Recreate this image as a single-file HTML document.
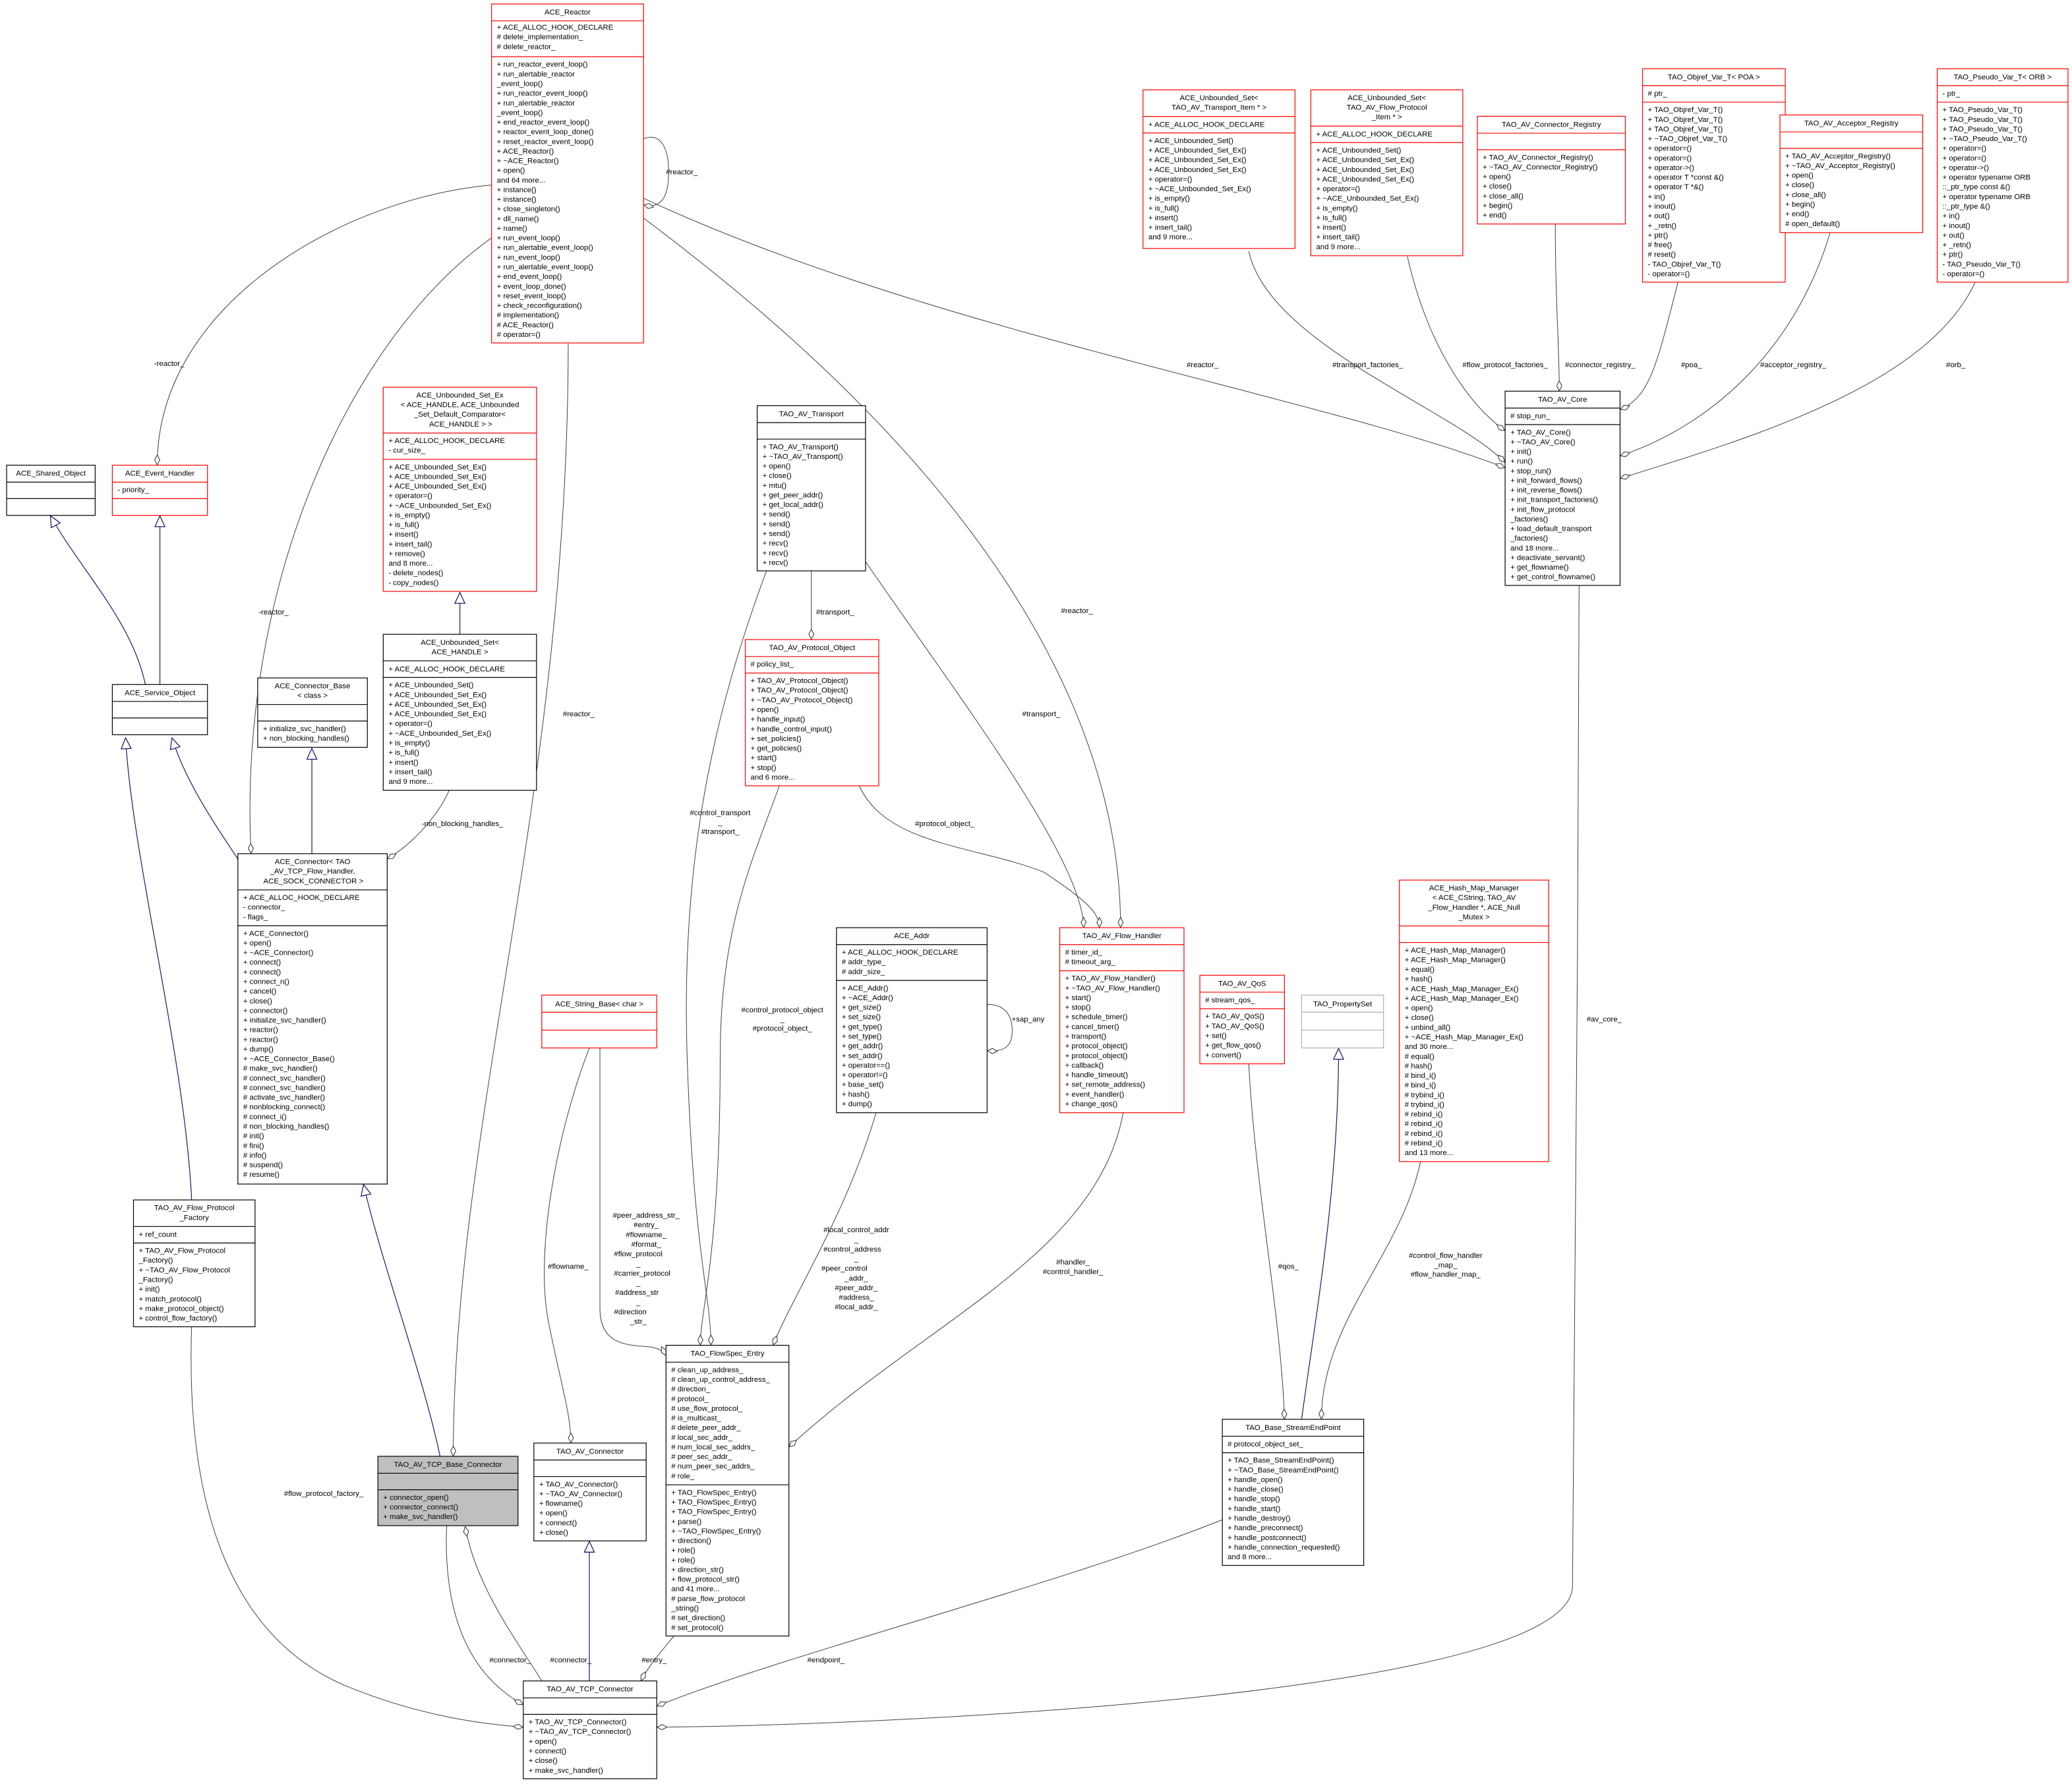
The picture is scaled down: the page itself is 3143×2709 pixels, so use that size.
<!DOCTYPE html>
<html><head><meta charset="utf-8">
<style>
html,body{margin:0;padding:0;background:#fff;}
svg{display:block;}
text{font-family:"Liberation Sans",sans-serif;font-size:5.7px;fill:#000;}
.bx rect{fill:#fff;stroke:#000;stroke-width:.6;}
.bx path{stroke:#000;stroke-width:.6;fill:none;}
.r rect,.r path{stroke:#f00;}
.g rect{fill:#bfbfbf;}
.gr rect,.gr path{stroke:#b0b0b0;}
.e{fill:none;stroke:#404040;stroke-width:.5;}
.n{fill:none;stroke:#191970;stroke-width:.6;}
.c{text-anchor:middle;}
</style></head><body>
<svg width="3143" height="2709" viewBox="0 0 1568 1351.5" xmlns="http://www.w3.org/2000/svg">
<defs>
<marker id="d" viewBox="0 0 10 6" refX="10" refY="3" markerWidth="8" markerHeight="4.8" orient="auto" markerUnits="userSpaceOnUse"><path d="M0.3,3 L5,0.6 L9.7,3 L5,5.4z" fill="#fff" stroke="#404040" stroke-width=".7"/></marker>
<marker id="t" viewBox="0 0 10 10" refX="10" refY="5" markerWidth="9" markerHeight="9" orient="auto" markerUnits="userSpaceOnUse"><path d="M0.5,0.8 L9.6,5 L0.5,9.2z" fill="#fff" stroke="#191970" stroke-width=".7"/></marker>
</defs>
<rect width="1568" height="1352" fill="#fff"/>

<!-- edges -->
<g class="e" marker-end="url(#d)">
<path d="M487,105 C500,100 506,112 506,130 C506,150 500,158 487,155"/>
<path d="M372,140 C260,150 119,230 119,352"/>
<path d="M372,180 C260,260 180,450 190,646"/>
<path d="M430,260 C430,600 343,850 343,1102"/>
<path d="M487,150 C700,250 1000,300 1139,354"/>
<path d="M487,165 C600,250 848,450 848,702"/>
<path d="M945,190 C960,260 1100,310 1139,350"/>
<path d="M1065,194 C1080,260 1110,305 1139,326"/>
<path d="M1177,169 C1177,230 1180,260 1180,296"/>
<path d="M1270,213 C1255,270 1250,300 1226,310"/>
<path d="M1385,176 C1360,260 1300,320 1226,345"/>
<path d="M1495,213 C1460,290 1330,330 1226,362"/>
<path d="M340,598 C330,620 310,640 293,650"/>
<path d="M614,432 L614,484"/>
<path d="M580,432 C540,540 515,650 520,800 C525,950 538,980 538,1018"/>
<path d="M655,425 C720,520 820,650 820,702"/>
<path d="M590,594 C570,650 545,700 545,800 C545,950 530,990 530,1018"/>
<path d="M650,594 C670,640 740,640 790,660 C820,680 832,690 832,702"/>
<path d="M663,842 C640,920 600,980 585,1018"/>
<path d="M850,842 C830,950 700,1000 597,1095"/>
<path d="M454,793 L454,990 C454,1015 470,1018 490,1019 C498,1020 502,1022 504,1026"/>
<path d="M446,793 C420,860 405,950 415,1000 C425,1050 432,1070 432,1092"/>
<path d="M747,760 C762,760 766,770 766,780 C766,792 760,796 747,795"/>
<path d="M945,805 C950,900 970,1000 972,1074"/>
<path d="M1075,879 C1060,950 1000,1000 1000,1074"/>
<path d="M1195,443 C1195,700 1190,1100 1190,1200 C1190,1280 700,1305 497,1307"/>
<path d="M145,1004 C140,1150 180,1240 260,1275 C320,1300 370,1305 396,1307"/>
<path d="M338,1154 C335,1230 360,1270 396,1290"/>
<path d="M410,1272 C390,1240 360,1200 352,1155"/>
<path d="M510,1238 C500,1250 490,1262 485,1272"/>
<path d="M925,1150 C800,1200 600,1250 497,1291"/>
</g>
<g class="n" marker-end="url(#t)">
<path d="M110,518 C100,470 60,430 38,390"/>
<path d="M121,518 L121,390"/>
<path d="M145,908 C140,800 100,650 95,558"/>
<path d="M180,650 C160,620 140,590 130,558"/>
<path d="M236,646 L236,566"/>
<path d="M348,480 L348,448"/>
<path d="M333,1102 C320,1040 290,960 275,896"/>
<path d="M446,1272 L446,1166"/>
<path d="M985,1074 C995,1000 1013,900 1013,793"/>
</g>

<!-- edge labels -->
<g class="c">
<text x="516" y="132">#reactor_</text>
<text x="128" y="277">-reactor_</text>
<text x="207" y="465">-reactor_</text>
<text x="438" y="542">#reactor_</text>
<text x="910" y="278">#reactor_</text>
<text x="815" y="464">#reactor_</text>
<text x="1035" y="278">#transport_factories_</text>
<text x="1139" y="278">#flow_protocol_factories_</text>
<text x="1211" y="278">#connector_registry_</text>
<text x="1280" y="278">#poa_</text>
<text x="1357" y="278">#acceptor_registry_</text>
<text x="1480" y="278">#orb_</text>
<text x="350" y="625">-non_blocking_handles_</text>
<text x="632" y="465">#transport_</text>
<text x="545" y="617">#control_transport</text><text x="545" y="624">_</text><text x="545" y="631">#transport_</text>
<text x="788" y="542">#transport_</text>
<text x="715" y="625">#protocol_object_</text>
<text x="592" y="766">#control_protocol_object</text><text x="592" y="773">_</text><text x="592" y="780">#protocol_object_</text>
<text x="778" y="773">+sap_any</text>
<text x="430" y="960">#flowname_</text>
<text x="812" y="957">#handler_</text><text x="812" y="964">#control_handler_</text>
<text x="975" y="960">#qos_</text>
<text x="1094" y="952">#control_flow_handler</text><text x="1094" y="959">_map_</text><text x="1094" y="966">#flow_handler_map_</text>
<text x="1214" y="773">#av_core_</text>
<text x="245" y="1132">#flow_protocol_factory_</text>
<text x="386" y="1258">#connector_</text>
<text x="432" y="1258">#connector_</text>
<text x="495" y="1258">#entry_</text>
<text x="625" y="1258">#endpoint_</text>
<text x="489" y="921.5">#peer_address_str_<tspan x="489" dy="7.3">#entry_</tspan><tspan x="489" dy="7.3">#flowname_</tspan><tspan x="489" dy="7.3">#format_</tspan><tspan x="483" dy="7.3">#flow_protocol</tspan><tspan x="483" dy="7.3">_</tspan><tspan x="486" dy="7.3">#carrier_protocol</tspan><tspan x="483" dy="7.3">_</tspan><tspan x="482" dy="7.3">#address_str</tspan><tspan x="483" dy="7.3">_</tspan><tspan x="477" dy="7.3">#direction</tspan><tspan x="483" dy="7.3">_str_</tspan></text>
<text x="648" y="932.5">#local_control_addr<tspan x="648" dy="7.3">_</tspan><tspan x="645" dy="7.3">#control_address</tspan><tspan x="648" dy="7.3">_</tspan><tspan x="639" dy="7.3">#peer_control</tspan><tspan x="648" dy="7.3">_addr_</tspan><tspan x="648" dy="7.3">#peer_addr_</tspan><tspan x="648" dy="7.3">#address_</tspan><tspan x="648" dy="7.3">#local_addr_</tspan></text>
</g>

<!-- boxes -->
<g class="bx r"><rect x="372" y="3" width="115" height="256.5"/><path d="M372,15.8H487M372,42.9H487"/>
<text class="c" x="429.5" y="11">ACE_Reactor</text>
<text x="376" y="22.5">+ ACE_ALLOC_HOOK_DECLARE<tspan x="376" dy="7.3"># delete_implementation_</tspan><tspan x="376" dy="7.3"># delete_reactor_</tspan></text>
<text x="376" y="50.5">+ run_reactor_event_loop()<tspan x="376" dy="7.3">+ run_alertable_reactor</tspan><tspan x="376" dy="7.3">_event_loop()</tspan><tspan x="376" dy="7.3">+ run_reactor_event_loop()</tspan><tspan x="376" dy="7.3">+ run_alertable_reactor</tspan><tspan x="376" dy="7.3">_event_loop()</tspan><tspan x="376" dy="7.3">+ end_reactor_event_loop()</tspan><tspan x="376" dy="7.3">+ reactor_event_loop_done()</tspan><tspan x="376" dy="7.3">+ reset_reactor_event_loop()</tspan><tspan x="376" dy="7.3">+ ACE_Reactor()</tspan><tspan x="376" dy="7.3">+ ~ACE_Reactor()</tspan><tspan x="376" dy="7.3">+ open()</tspan><tspan x="376" dy="7.3">and 64 more...</tspan><tspan x="376" dy="7.3">+ instance()</tspan><tspan x="376" dy="7.3">+ instance()</tspan><tspan x="376" dy="7.3">+ close_singleton()</tspan><tspan x="376" dy="7.3">+ dll_name()</tspan><tspan x="376" dy="7.3">+ name()</tspan><tspan x="376" dy="7.3">+ run_event_loop()</tspan><tspan x="376" dy="7.3">+ run_alertable_event_loop()</tspan><tspan x="376" dy="7.3">+ run_event_loop()</tspan><tspan x="376" dy="7.3">+ run_alertable_event_loop()</tspan><tspan x="376" dy="7.3">+ end_event_loop()</tspan><tspan x="376" dy="7.3">+ event_loop_done()</tspan><tspan x="376" dy="7.3">+ reset_event_loop()</tspan><tspan x="376" dy="7.3">+ check_reconfiguration()</tspan><tspan x="376" dy="7.3"># implementation()</tspan><tspan x="376" dy="7.3"># ACE_Reactor()</tspan><tspan x="376" dy="7.3"># operator=()</tspan></text></g>

<g class="bx r"><rect x="865" y="68" width="115" height="120"/><path d="M865,88.1H980M865,100.6H980"/>
<text class="c" x="922.5" y="75.8">ACE_Unbounded_Set&lt;<tspan x="922.5" dy="7.3">TAO_AV_Transport_Item * &gt;</tspan></text>
<text x="869" y="96">+ ACE_ALLOC_HOOK_DECLARE</text>
<text x="869" y="108.2">+ ACE_Unbounded_Set()<tspan x="869" dy="7.3">+ ACE_Unbounded_Set_Ex()</tspan><tspan x="869" dy="7.3">+ ACE_Unbounded_Set_Ex()</tspan><tspan x="869" dy="7.3">+ ACE_Unbounded_Set_Ex()</tspan><tspan x="869" dy="7.3">+ operator=()</tspan><tspan x="869" dy="7.3">+ ~ACE_Unbounded_Set_Ex()</tspan><tspan x="869" dy="7.3">+ is_empty()</tspan><tspan x="869" dy="7.3">+ is_full()</tspan><tspan x="869" dy="7.3">+ insert()</tspan><tspan x="869" dy="7.3">+ insert_tail()</tspan><tspan x="869" dy="7.3">and 9 more...</tspan></text></g>

<g class="bx r"><rect x="992" y="68" width="115" height="125.5"/><path d="M992,95.4H1107M992,107.9H1107"/>
<text class="c" x="1049.5" y="75.8">ACE_Unbounded_Set&lt;<tspan x="1049.5" dy="7.3">TAO_AV_Flow_Protocol</tspan><tspan x="1049.5" dy="7.3">_Item * &gt;</tspan></text>
<text x="996" y="103.3">+ ACE_ALLOC_HOOK_DECLARE</text>
<text x="996" y="115.5">+ ACE_Unbounded_Set()<tspan x="996" dy="7.3">+ ACE_Unbounded_Set_Ex()</tspan><tspan x="996" dy="7.3">+ ACE_Unbounded_Set_Ex()</tspan><tspan x="996" dy="7.3">+ ACE_Unbounded_Set_Ex()</tspan><tspan x="996" dy="7.3">+ operator=()</tspan><tspan x="996" dy="7.3">+ ~ACE_Unbounded_Set_Ex()</tspan><tspan x="996" dy="7.3">+ is_empty()</tspan><tspan x="996" dy="7.3">+ is_full()</tspan><tspan x="996" dy="7.3">+ insert()</tspan><tspan x="996" dy="7.3">+ insert_tail()</tspan><tspan x="996" dy="7.3">and 9 more...</tspan></text></g>

<g class="bx r"><rect x="1118" y="88" width="112" height="81.5"/><path d="M1118,100.8H1230M1118,113.3H1230"/>
<text class="c" x="1174" y="96">TAO_AV_Connector_Registry</text>
<text x="1122" y="120.9">+ TAO_AV_Connector_Registry()<tspan x="1122" dy="7.3">+ ~TAO_AV_Connector_Registry()</tspan><tspan x="1122" dy="7.3">+ open()</tspan><tspan x="1122" dy="7.3">+ close()</tspan><tspan x="1122" dy="7.3">+ close_all()</tspan><tspan x="1122" dy="7.3">+ begin()</tspan><tspan x="1122" dy="7.3">+ end()</tspan></text></g>

<g class="bx r"><rect x="1243" y="52" width="108" height="161.5"/><path d="M1243,64.8H1351M1243,77.3H1351"/>
<text class="c" x="1297" y="60">TAO_Objref_Var_T&lt; POA &gt;</text>
<text x="1247" y="72.5"># ptr_</text>
<text x="1247" y="84.9">+ TAO_Objref_Var_T()<tspan x="1247" dy="7.3">+ TAO_Objref_Var_T()</tspan><tspan x="1247" dy="7.3">+ TAO_Objref_Var_T()</tspan><tspan x="1247" dy="7.3">+ ~TAO_Objref_Var_T()</tspan><tspan x="1247" dy="7.3">+ operator=()</tspan><tspan x="1247" dy="7.3">+ operator=()</tspan><tspan x="1247" dy="7.3">+ operator-&gt;()</tspan><tspan x="1247" dy="7.3">+ operator T *const &amp;()</tspan><tspan x="1247" dy="7.3">+ operator T *&amp;()</tspan><tspan x="1247" dy="7.3">+ in()</tspan><tspan x="1247" dy="7.3">+ inout()</tspan><tspan x="1247" dy="7.3">+ out()</tspan><tspan x="1247" dy="7.3">+ _retn()</tspan><tspan x="1247" dy="7.3">+ ptr()</tspan><tspan x="1247" dy="7.3"># free()</tspan><tspan x="1247" dy="7.3"># reset()</tspan><tspan x="1247" dy="7.3">- TAO_Objref_Var_T()</tspan><tspan x="1247" dy="7.3">- operator=()</tspan></text></g>

<g class="bx r"><rect x="1347" y="87" width="108" height="89"/><path d="M1347,99.8H1455M1347,112.3H1455"/>
<text class="c" x="1401" y="95">TAO_AV_Acceptor_Registry</text>
<text x="1351" y="119.9">+ TAO_AV_Acceptor_Registry()<tspan x="1351" dy="7.3">+ ~TAO_AV_Acceptor_Registry()</tspan><tspan x="1351" dy="7.3">+ open()</tspan><tspan x="1351" dy="7.3">+ close()</tspan><tspan x="1351" dy="7.3">+ close_all()</tspan><tspan x="1351" dy="7.3">+ begin()</tspan><tspan x="1351" dy="7.3">+ end()</tspan><tspan x="1351" dy="7.3"># open_default()</tspan></text></g>

<g class="bx r"><rect x="1466" y="52" width="99" height="161.5"/><path d="M1466,64.8H1565M1466,77.3H1565"/>
<text class="c" x="1515.5" y="60">TAO_Pseudo_Var_T&lt; ORB &gt;</text>
<text x="1470" y="72.5">- ptr_</text>
<text x="1470" y="84.9">+ TAO_Pseudo_Var_T()<tspan x="1470" dy="7.3">+ TAO_Pseudo_Var_T()</tspan><tspan x="1470" dy="7.3">+ TAO_Pseudo_Var_T()</tspan><tspan x="1470" dy="7.3">+ ~TAO_Pseudo_Var_T()</tspan><tspan x="1470" dy="7.3">+ operator=()</tspan><tspan x="1470" dy="7.3">+ operator=()</tspan><tspan x="1470" dy="7.3">+ operator-&gt;()</tspan><tspan x="1470" dy="7.3">+ operator typename ORB</tspan><tspan x="1470" dy="7.3">::_ptr_type const &amp;()</tspan><tspan x="1470" dy="7.3">+ operator typename ORB</tspan><tspan x="1470" dy="7.3">::_ptr_type &amp;()</tspan><tspan x="1470" dy="7.3">+ in()</tspan><tspan x="1470" dy="7.3">+ inout()</tspan><tspan x="1470" dy="7.3">+ out()</tspan><tspan x="1470" dy="7.3">+ _retn()</tspan><tspan x="1470" dy="7.3">+ ptr()</tspan><tspan x="1470" dy="7.3">- TAO_Pseudo_Var_T()</tspan><tspan x="1470" dy="7.3">- operator=()</tspan></text></g>

<g class="bx"><rect x="1139" y="296" width="87" height="147"/><path d="M1139,308.8H1226M1139,321.3H1226"/>
<text class="c" x="1182.5" y="304">TAO_AV_Core</text>
<text x="1143" y="316.5"># stop_run_</text>
<text x="1143" y="328.9">+ TAO_AV_Core()<tspan x="1143" dy="7.3">+ ~TAO_AV_Core()</tspan><tspan x="1143" dy="7.3">+ init()</tspan><tspan x="1143" dy="7.3">+ run()</tspan><tspan x="1143" dy="7.3">+ stop_run()</tspan><tspan x="1143" dy="7.3">+ init_forward_flows()</tspan><tspan x="1143" dy="7.3">+ init_reverse_flows()</tspan><tspan x="1143" dy="7.3">+ init_transport_factories()</tspan><tspan x="1143" dy="7.3">+ init_flow_protocol</tspan><tspan x="1143" dy="7.3">_factories()</tspan><tspan x="1143" dy="7.3">+ load_default_transport</tspan><tspan x="1143" dy="7.3">_factories()</tspan><tspan x="1143" dy="7.3">and 18 more...</tspan><tspan x="1143" dy="7.3">+ deactivate_servant()</tspan><tspan x="1143" dy="7.3">+ get_flowname()</tspan><tspan x="1143" dy="7.3">+ get_control_flowname()</tspan></text></g>

<g class="bx"><rect x="5" y="352" width="67" height="38"/><path d="M5,364.8H72M5,377.3H72"/>
<text class="c" x="38.5" y="360">ACE_Shared_Object</text></g>

<g class="bx r"><rect x="85" y="352" width="72" height="38"/><path d="M85,364.8H157M85,377.3H157"/>
<text class="c" x="121" y="360">ACE_Event_Handler</text>
<text x="89" y="372.5">- priority_</text></g>

<g class="bx r"><rect x="290" y="293" width="116" height="154.5"/><path d="M290,327.7H406M290,347.5H406"/>
<text class="c" x="348" y="300.8">ACE_Unbounded_Set_Ex<tspan x="348" dy="7.3">&lt; ACE_HANDLE, ACE_Unbounded</tspan><tspan x="348" dy="7.3">_Set_Default_Comparator&lt;</tspan><tspan x="348" dy="7.3"> ACE_HANDLE &gt; &gt;</tspan></text>
<text x="294" y="335.3">+ ACE_ALLOC_HOOK_DECLARE<tspan x="294" dy="7.3">- cur_size_</tspan></text>
<text x="294" y="355.1">+ ACE_Unbounded_Set_Ex()<tspan x="294" dy="7.3">+ ACE_Unbounded_Set_Ex()</tspan><tspan x="294" dy="7.3">+ ACE_Unbounded_Set_Ex()</tspan><tspan x="294" dy="7.3">+ operator=()</tspan><tspan x="294" dy="7.3">+ ~ACE_Unbounded_Set_Ex()</tspan><tspan x="294" dy="7.3">+ is_empty()</tspan><tspan x="294" dy="7.3">+ is_full()</tspan><tspan x="294" dy="7.3">+ insert()</tspan><tspan x="294" dy="7.3">+ insert_tail()</tspan><tspan x="294" dy="7.3">+ remove()</tspan><tspan x="294" dy="7.3">and 8 more...</tspan><tspan x="294" dy="7.3">- delete_nodes()</tspan><tspan x="294" dy="7.3">- copy_nodes()</tspan></text></g>

<g class="bx"><rect x="573" y="307" width="82" height="125"/><path d="M573,319.8H655M573,332.3H655"/>
<text class="c" x="614" y="315">TAO_AV_Transport</text>
<text x="577" y="339.9">+ TAO_AV_Transport()<tspan x="577" dy="7.3">+ ~TAO_AV_Transport()</tspan><tspan x="577" dy="7.3">+ open()</tspan><tspan x="577" dy="7.3">+ close()</tspan><tspan x="577" dy="7.3">+ mtu()</tspan><tspan x="577" dy="7.3">+ get_peer_addr()</tspan><tspan x="577" dy="7.3">+ get_local_addr()</tspan><tspan x="577" dy="7.3">+ send()</tspan><tspan x="577" dy="7.3">+ send()</tspan><tspan x="577" dy="7.3">+ send()</tspan><tspan x="577" dy="7.3">+ recv()</tspan><tspan x="577" dy="7.3">+ recv()</tspan><tspan x="577" dy="7.3">+ recv()</tspan></text></g>

<g class="bx"><rect x="85" y="518" width="72" height="38"/><path d="M85,530.8H157M85,543.3H157"/>
<text class="c" x="121" y="526">ACE_Service_Object</text></g>

<g class="bx"><rect x="195" y="513" width="83" height="52.5"/><path d="M195,533.1H278M195,545.6H278"/>
<text class="c" x="236.5" y="520.8">ACE_Connector_Base<tspan x="236.5" dy="7.3">&lt; class &gt;</tspan></text>
<text x="199" y="553.2">+ initialize_svc_handler()<tspan x="199" dy="7.3">+ non_blocking_handles()</tspan></text></g>

<g class="bx"><rect x="290" y="480" width="116" height="118"/><path d="M290,500.1H406M290,512.6H406"/>
<text class="c" x="348" y="487.8">ACE_Unbounded_Set&lt;<tspan x="348" dy="7.3">ACE_HANDLE &gt;</tspan></text>
<text x="294" y="508">+ ACE_ALLOC_HOOK_DECLARE</text>
<text x="294" y="520.2">+ ACE_Unbounded_Set()<tspan x="294" dy="7.3">+ ACE_Unbounded_Set_Ex()</tspan><tspan x="294" dy="7.3">+ ACE_Unbounded_Set_Ex()</tspan><tspan x="294" dy="7.3">+ ACE_Unbounded_Set_Ex()</tspan><tspan x="294" dy="7.3">+ operator=()</tspan><tspan x="294" dy="7.3">+ ~ACE_Unbounded_Set_Ex()</tspan><tspan x="294" dy="7.3">+ is_empty()</tspan><tspan x="294" dy="7.3">+ is_full()</tspan><tspan x="294" dy="7.3">+ insert()</tspan><tspan x="294" dy="7.3">+ insert_tail()</tspan><tspan x="294" dy="7.3">and 9 more...</tspan></text></g>

<g class="bx r"><rect x="564" y="484" width="101" height="110.6"/><path d="M564,496.8H665M564,509.3H665"/>
<text class="c" x="614.5" y="492">TAO_AV_Protocol_Object</text>
<text x="568" y="504.5"># policy_list_</text>
<text x="568" y="516.9">+ TAO_AV_Protocol_Object()<tspan x="568" dy="7.3">+ TAO_AV_Protocol_Object()</tspan><tspan x="568" dy="7.3">+ ~TAO_AV_Protocol_Object()</tspan><tspan x="568" dy="7.3">+ open()</tspan><tspan x="568" dy="7.3">+ handle_input()</tspan><tspan x="568" dy="7.3">+ handle_control_input()</tspan><tspan x="568" dy="7.3">+ set_policies()</tspan><tspan x="568" dy="7.3">+ get_policies()</tspan><tspan x="568" dy="7.3">+ start()</tspan><tspan x="568" dy="7.3">+ stop()</tspan><tspan x="568" dy="7.3">and 6 more...</tspan></text></g>

<g class="bx"><rect x="180" y="646" width="113" height="250"/><path d="M180,673.4H293M180,700.5H293"/>
<text class="c" x="236.5" y="653.8">ACE_Connector&lt; TAO<tspan x="236.5" dy="7.3">_AV_TCP_Flow_Handler,</tspan><tspan x="236.5" dy="7.3"> ACE_SOCK_CONNECTOR &gt;</tspan></text>
<text x="184" y="681">+ ACE_ALLOC_HOOK_DECLARE<tspan x="184" dy="7.3">- connector_</tspan><tspan x="184" dy="7.3">- flags_</tspan></text>
<text x="184" y="708.1">+ ACE_Connector()<tspan x="184" dy="7.3">+ open()</tspan><tspan x="184" dy="7.3">+ ~ACE_Connector()</tspan><tspan x="184" dy="7.3">+ connect()</tspan><tspan x="184" dy="7.3">+ connect()</tspan><tspan x="184" dy="7.3">+ connect_n()</tspan><tspan x="184" dy="7.3">+ cancel()</tspan><tspan x="184" dy="7.3">+ close()</tspan><tspan x="184" dy="7.3">+ connector()</tspan><tspan x="184" dy="7.3">+ initialize_svc_handler()</tspan><tspan x="184" dy="7.3">+ reactor()</tspan><tspan x="184" dy="7.3">+ reactor()</tspan><tspan x="184" dy="7.3">+ dump()</tspan><tspan x="184" dy="7.3">+ ~ACE_Connector_Base()</tspan><tspan x="184" dy="7.3"># make_svc_handler()</tspan><tspan x="184" dy="7.3"># connect_svc_handler()</tspan><tspan x="184" dy="7.3"># connect_svc_handler()</tspan><tspan x="184" dy="7.3"># activate_svc_handler()</tspan><tspan x="184" dy="7.3"># nonblocking_connect()</tspan><tspan x="184" dy="7.3"># connect_i()</tspan><tspan x="184" dy="7.3"># non_blocking_handles()</tspan><tspan x="184" dy="7.3"># init()</tspan><tspan x="184" dy="7.3"># fini()</tspan><tspan x="184" dy="7.3"># info()</tspan><tspan x="184" dy="7.3"># suspend()</tspan><tspan x="184" dy="7.3"># resume()</tspan></text></g>

<g class="bx"><rect x="633" y="702" width="114" height="140"/><path d="M633,714.8H747M633,741.9H747"/>
<text class="c" x="690" y="710">ACE_Addr</text>
<text x="637" y="722.4">+ ACE_ALLOC_HOOK_DECLARE<tspan x="637" dy="7.3"># addr_type_</tspan><tspan x="637" dy="7.3"># addr_size_</tspan></text>
<text x="637" y="749.5">+ ACE_Addr()<tspan x="637" dy="7.3">+ ~ACE_Addr()</tspan><tspan x="637" dy="7.3">+ get_size()</tspan><tspan x="637" dy="7.3">+ set_size()</tspan><tspan x="637" dy="7.3">+ get_type()</tspan><tspan x="637" dy="7.3">+ set_type()</tspan><tspan x="637" dy="7.3">+ get_addr()</tspan><tspan x="637" dy="7.3">+ set_addr()</tspan><tspan x="637" dy="7.3">+ operator==()</tspan><tspan x="637" dy="7.3">+ operator!=()</tspan><tspan x="637" dy="7.3">+ base_set()</tspan><tspan x="637" dy="7.3">+ hash()</tspan><tspan x="637" dy="7.3">+ dump()</tspan></text></g>

<g class="bx r"><rect x="802" y="702" width="94" height="140"/><path d="M802,714.8H896M802,734.6H896"/>
<text class="c" x="849" y="710">TAO_AV_Flow_Handler</text>
<text x="806" y="722.4"># timer_id_<tspan x="806" dy="7.3"># timeout_arg_</tspan></text>
<text x="806" y="742.2">+ TAO_AV_Flow_Handler()<tspan x="806" dy="7.3">+ ~TAO_AV_Flow_Handler()</tspan><tspan x="806" dy="7.3">+ start()</tspan><tspan x="806" dy="7.3">+ stop()</tspan><tspan x="806" dy="7.3">+ schedule_timer()</tspan><tspan x="806" dy="7.3">+ cancel_timer()</tspan><tspan x="806" dy="7.3">+ transport()</tspan><tspan x="806" dy="7.3">+ protocol_object()</tspan><tspan x="806" dy="7.3">+ protocol_object()</tspan><tspan x="806" dy="7.3">+ callback()</tspan><tspan x="806" dy="7.3">+ handle_timeout()</tspan><tspan x="806" dy="7.3">+ set_remote_address()</tspan><tspan x="806" dy="7.3">+ event_handler()</tspan><tspan x="806" dy="7.3">+ change_qos()</tspan></text></g>

<g class="bx r"><rect x="1059" y="666" width="113" height="213"/><path d="M1059,700.7H1172M1059,713.2H1172"/>
<text class="c" x="1115.5" y="673.8">ACE_Hash_Map_Manager<tspan x="1115.5" dy="7.3">&lt; ACE_CString, TAO_AV</tspan><tspan x="1115.5" dy="7.3">_Flow_Handler *, ACE_Null</tspan><tspan x="1115.5" dy="7.3">_Mutex &gt;</tspan></text>
<text x="1063" y="720.8">+ ACE_Hash_Map_Manager()<tspan x="1063" dy="7.3">+ ACE_Hash_Map_Manager()</tspan><tspan x="1063" dy="7.3">+ equal()</tspan><tspan x="1063" dy="7.3">+ hash()</tspan><tspan x="1063" dy="7.3">+ ACE_Hash_Map_Manager_Ex()</tspan><tspan x="1063" dy="7.3">+ ACE_Hash_Map_Manager_Ex()</tspan><tspan x="1063" dy="7.3">+ open()</tspan><tspan x="1063" dy="7.3">+ close()</tspan><tspan x="1063" dy="7.3">+ unbind_all()</tspan><tspan x="1063" dy="7.3">+ ~ACE_Hash_Map_Manager_Ex()</tspan><tspan x="1063" dy="7.3">and 30 more...</tspan><tspan x="1063" dy="7.3"># equal()</tspan><tspan x="1063" dy="7.3"># hash()</tspan><tspan x="1063" dy="7.3"># bind_i()</tspan><tspan x="1063" dy="7.3"># bind_i()</tspan><tspan x="1063" dy="7.3"># trybind_i()</tspan><tspan x="1063" dy="7.3"># trybind_i()</tspan><tspan x="1063" dy="7.3"># rebind_i()</tspan><tspan x="1063" dy="7.3"># rebind_i()</tspan><tspan x="1063" dy="7.3"># rebind_i()</tspan><tspan x="1063" dy="7.3"># rebind_i()</tspan><tspan x="1063" dy="7.3">and 13 more...</tspan></text></g>

<g class="bx r"><rect x="410" y="753" width="87" height="40"/><path d="M410,766H497M410,779.5H497"/>
<text class="c" x="453.5" y="761.5">ACE_String_Base&lt; char &gt;</text></g>

<g class="bx r"><rect x="908" y="738" width="64" height="67"/><path d="M908,750.8H972M908,763.3H972"/>
<text class="c" x="940" y="746">TAO_AV_QoS</text>
<text x="912" y="758.5"># stream_qos_</text>
<text x="912" y="770.9">+ TAO_AV_QoS()<tspan x="912" dy="7.3">+ TAO_AV_QoS()</tspan><tspan x="912" dy="7.3">+ set()</tspan><tspan x="912" dy="7.3">+ get_flow_qos()</tspan><tspan x="912" dy="7.3">+ convert()</tspan></text></g>

<g class="bx gr"><rect x="985" y="753" width="62" height="40"/><path d="M985,766H1047M985,779.5H1047"/>
<text class="c" x="1016" y="761.5">TAO_PropertySet</text></g>

<g class="bx"><rect x="101" y="908" width="92" height="96"/><path d="M101,928.1H193M101,940.6H193"/>
<text class="c" x="147" y="915.8">TAO_AV_Flow_Protocol<tspan x="147" dy="7.3">_Factory</tspan></text>
<text x="105" y="935.8">+ ref_count</text>
<text x="105" y="948.2">+ TAO_AV_Flow_Protocol<tspan x="105" dy="7.3">_Factory()</tspan><tspan x="105" dy="7.3">+ ~TAO_AV_Flow_Protocol</tspan><tspan x="105" dy="7.3">_Factory()</tspan><tspan x="105" dy="7.3">+ init()</tspan><tspan x="105" dy="7.3">+ match_protocol()</tspan><tspan x="105" dy="7.3">+ make_protocol_object()</tspan><tspan x="105" dy="7.3">+ control_flow_factory()</tspan></text></g>

<g class="bx"><rect x="504" y="1018" width="93" height="220"/><path d="M504,1030.8H597M504,1123.6H597"/>
<text class="c" x="550.5" y="1026">TAO_FlowSpec_Entry</text>
<text x="508" y="1038.4"># clean_up_address_<tspan x="508" dy="7.3"># clean_up_control_address_</tspan><tspan x="508" dy="7.3"># direction_</tspan><tspan x="508" dy="7.3"># protocol_</tspan><tspan x="508" dy="7.3"># use_flow_protocol_</tspan><tspan x="508" dy="7.3"># is_multicast_</tspan><tspan x="508" dy="7.3"># delete_peer_addr_</tspan><tspan x="508" dy="7.3"># local_sec_addr_</tspan><tspan x="508" dy="7.3"># num_local_sec_addrs_</tspan><tspan x="508" dy="7.3"># peer_sec_addr_</tspan><tspan x="508" dy="7.3"># num_peer_sec_addrs_</tspan><tspan x="508" dy="7.3"># role_</tspan></text>
<text x="508" y="1131.2">+ TAO_FlowSpec_Entry()<tspan x="508" dy="7.3">+ TAO_FlowSpec_Entry()</tspan><tspan x="508" dy="7.3">+ TAO_FlowSpec_Entry()</tspan><tspan x="508" dy="7.3">+ parse()</tspan><tspan x="508" dy="7.3">+ ~TAO_FlowSpec_Entry()</tspan><tspan x="508" dy="7.3">+ direction()</tspan><tspan x="508" dy="7.3">+ role()</tspan><tspan x="508" dy="7.3">+ role()</tspan><tspan x="508" dy="7.3">+ direction_str()</tspan><tspan x="508" dy="7.3">+ flow_protocol_str()</tspan><tspan x="508" dy="7.3">and 41 more...</tspan><tspan x="508" dy="7.3"># parse_flow_protocol</tspan><tspan x="508" dy="7.3">_string()</tspan><tspan x="508" dy="7.3"># set_direction()</tspan><tspan x="508" dy="7.3"># set_protocol()</tspan></text></g>

<g class="bx"><rect x="925" y="1074" width="107" height="110.6"/><path d="M925,1086.8H1032M925,1099.3H1032"/>
<text class="c" x="978.5" y="1082">TAO_Base_StreamEndPoint</text>
<text x="929" y="1094.5"># protocol_object_set_</text>
<text x="929" y="1106.9">+ TAO_Base_StreamEndPoint()<tspan x="929" dy="7.3">+ ~TAO_Base_StreamEndPoint()</tspan><tspan x="929" dy="7.3">+ handle_open()</tspan><tspan x="929" dy="7.3">+ handle_close()</tspan><tspan x="929" dy="7.3">+ handle_stop()</tspan><tspan x="929" dy="7.3">+ handle_start()</tspan><tspan x="929" dy="7.3">+ handle_destroy()</tspan><tspan x="929" dy="7.3">+ handle_preconnect()</tspan><tspan x="929" dy="7.3">+ handle_postconnect()</tspan><tspan x="929" dy="7.3">+ handle_connection_requested()</tspan><tspan x="929" dy="7.3">and 8 more...</tspan></text></g>

<g class="bx g"><rect x="286" y="1102" width="106" height="52.5"/><path d="M286,1114.8H392M286,1127.3H392"/>
<text class="c" x="339" y="1110">TAO_AV_TCP_Base_Connector</text>
<text x="290" y="1134.9">+ connector_open()<tspan x="290" dy="7.3">+ connector_connect()</tspan><tspan x="290" dy="7.3">+ make_svc_handler()</tspan></text></g>

<g class="bx"><rect x="404" y="1092" width="85" height="74"/><path d="M404,1104.8H489M404,1117.3H489"/>
<text class="c" x="446.5" y="1100">TAO_AV_Connector</text>
<text x="408" y="1124.9">+ TAO_AV_Connector()<tspan x="408" dy="7.3">+ ~TAO_AV_Connector()</tspan><tspan x="408" dy="7.3">+ flowname()</tspan><tspan x="408" dy="7.3">+ open()</tspan><tspan x="408" dy="7.3">+ connect()</tspan><tspan x="408" dy="7.3">+ close()</tspan></text></g>

<g class="bx"><rect x="396" y="1272" width="101" height="74"/><path d="M396,1284.8H497M396,1297.3H497"/>
<text class="c" x="446.5" y="1280">TAO_AV_TCP_Connector</text>
<text x="400" y="1304.9">+ TAO_AV_TCP_Connector()<tspan x="400" dy="7.3">+ ~TAO_AV_TCP_Connector()</tspan><tspan x="400" dy="7.3">+ open()</tspan><tspan x="400" dy="7.3">+ connect()</tspan><tspan x="400" dy="7.3">+ close()</tspan><tspan x="400" dy="7.3">+ make_svc_handler()</tspan></text></g>
</svg>
</body></html>
